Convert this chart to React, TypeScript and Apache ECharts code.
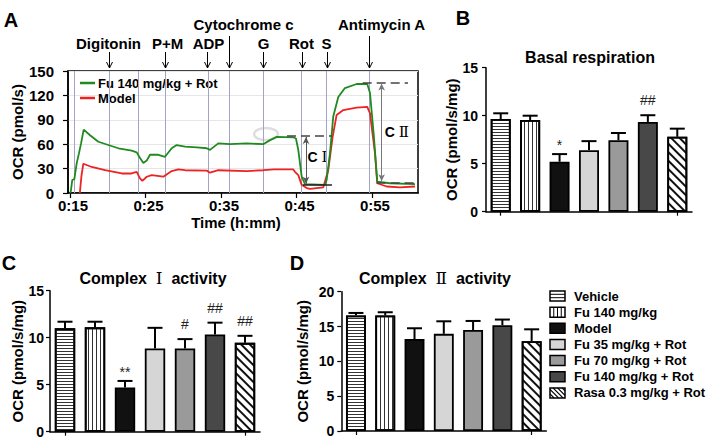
import React, { useEffect, useRef } from 'react';
import * as echarts from 'echarts';

const FONT = '"Liberation Sans", Arial, Helvetica, sans-serif';
const SERIF = '"DejaVu Serif", "Liberation Serif", serif';

// ---------- Panel A data ----------
const timeTicks = [15, 25, 35, 45, 55];
const yTicksA = [0, 30, 60, 90, 120, 150];
const traceNames = ['Fu 140 mg/kg + Rot', 'Model'];

// Fu 140 mg/kg + Rot (green) trace: [time (min), OCR (pmol/s)]
const fuRotTrace: [number, number][] = [
  [15.0, 0], [15.1, 2], [15.3, 16], [15.57, 17], [15.89, 37], [16.19, 49], [16.46, 61], [16.81, 78],
  [17.65, 71], [18.75, 63], [20.07, 59], [21.4, 55], [23.17, 52], [23.83, 50], [24.27, 43],
  [24.71, 37], [25.16, 40], [25.6, 47], [26.7, 47], [27.58, 44.5], [28.47, 55], [29.13, 59],
  [30.23, 57], [31.8, 56], [33.11, 55], [33.54, 53], [34.64, 61], [36.19, 60], [38.4, 61],
  [40.6, 60], [41.5, 65], [42.38, 69], [44.58, 68.5], [44.93, 67], [45.24, 53], [45.69, 20],
  [46.13, 11], [48.77, 10], [49.0, 16], [49.44, 49], [49.87, 94], [50.54, 118], [51.42, 129],
  [52.97, 134], [54.38, 134], [54.74, 123], [55.26, 69], [55.7, 14], [57.38, 12], [60.7, 11],
];

// Model (red) trace
const modelTrace: [number, number][] = [
  [16.3, 0], [16.5, 20], [16.76, 36], [17.87, 32], [19.64, 28], [21.85, 24], [23.17, 24],
  [23.83, 26], [24.27, 18], [24.58, 15], [25.16, 20], [25.82, 22], [27.36, 20], [28.47, 27],
  [29.34, 29], [30.23, 28], [33.11, 27.5], [33.54, 25], [34.64, 28], [38.4, 27], [40.6, 28],
  [42.0, 29], [44.58, 29], [44.8, 26], [45.24, 22], [45.69, 10], [46.35, 6], [46.79, 5],
  [48.55, 7], [49.21, 28], [49.79, 69], [50.32, 96], [51.2, 102], [52.97, 105], [54.38, 106],
  [54.74, 98], [55.4, 49], [55.7, 12], [56.95, 8], [58.71, 7], [60.7, 8],
];

// injection marks (vertical lines) in minutes
const injectionTimes = [15.53, 20.2, 24.05, 27.58, 33.32, 36.1, 40.6, 45.69, 49.0, 54.64];
const injectionNames = ['Digitonin', 'P+M', 'ADP', 'Cytochrome c', 'G', 'Rot', 'S', 'Antimycin A'];
const injectionArrowTimes = [20.2, 27.58, 33.1, 36.1, 40.6, 45.69, 49.0, 54.64];

// Complex I / II span annotations (time, OCR)
const complexIRange = { tStart: 43.74, tEnd: 49.7, tLowStart: 45.86, tArrow: 46.26, high: 70.5, low: 10 };
const complexIIRange = { tStart: 53.77, tEnd: 59.77, tLowStart: 55.62, tLowEnd: 61.09, tArrow: 56.28, high: 136, low: 13 };

// ---------- Bar panels data ----------
const groups = [
  'Vehicle', 'Fu 140 mg/kg', 'Model', 'Fu 35 mg/kg + Rot',
  'Fu 70 mg/kg + Rot', 'Fu 140 mg/kg + Rot', 'Rasa 0.3 mg/kg + Rot',
];
const basalMean = [9.65, 9.55, 5.2, 6.4, 7.45, 9.35, 7.8];
const basalErr = [0.6, 0.45, 0.8, 0.95, 0.75, 0.7, 0.85];
const basalSig = ['', '', '*', '', '', '##', ''];

const complexIMean = [11.0, 11.1, 4.7, 8.85, 8.85, 10.35, 9.45];
const complexIErr = [0.7, 0.6, 0.7, 2.2, 1.0, 1.25, 0.75];
const complexISig = ['', '', '**', '', '#', '##', '##'];

const complexIIMean = [16.6, 16.6, 13.2, 13.95, 14.5, 15.2, 12.9];
const complexIIErr = [0.35, 0.45, 1.55, 1.8, 1.3, 0.8, 1.7];
const complexIISig = ['', '', '', '', '', '', ''];

// ---------- styles ----------
const GREEN = '#1f8a1f';
const RED = '#ee2222';
const barColors = ['#ffffff', '#ffffff', '#111111', '#d6d6d6', '#9a9a9a', '#484848', '#ffffff'];
const hStripe = { symbol: 'rect', symbolSize: 1, dashArrayX: [1, 0], dashArrayY: [1, 2], color: '#333' };
const vStripe = { symbol: 'rect', symbolSize: 1, dashArrayX: [1, 3], dashArrayY: [1, 0], color: '#333' };
const dStripe = { symbol: 'rect', symbolSize: 1, dashArrayX: [1, 0], dashArrayY: [2, 4], rotation: Math.PI / 4, color: '#111' };
const barDecals: any[] = [hStripe, vStripe, null, null, null, null, dStripe];
const swatchPattern = ['h', 'v', '', '', '', '', 'd'];

const boldText = (size: number) => ({ fontFamily: FONT, fontWeight: 'bold' as const, fontSize: size, color: '#000' });

function barSeries(k: number, means: number[]) {
  return {
    type: 'bar',
    xAxisIndex: k,
    yAxisIndex: k,
    barWidth: '68%',
    silent: true,
    z: 2,
    data: means.map((v, i) => ({
      value: v,
      itemStyle: {
        color: barColors[i],
        borderColor: '#000',
        borderWidth: 1.8,
        decal: barDecals[i] || undefined,
      },
    })),
  };
}

function errSeries(k: number, means: number[], errs: number[], sig: string[]) {
  return {
    type: 'custom',
    xAxisIndex: k,
    yAxisIndex: k,
    silent: true,
    z: 5,
    data: means.map((m, i) => [i, m + errs[i], m]),
    renderItem: (params: any, api: any) => {
      const i = api.value(0);
      const top = api.coord([i, api.value(1)]);
      const base = api.coord([i, api.value(2)]);
      const s = sig[params.dataIndex];
      const children: any[] = [
        { type: 'line', shape: { x1: base[0], y1: base[1], x2: top[0], y2: top[1] }, style: { stroke: '#000', lineWidth: 2 } },
        { type: 'line', shape: { x1: top[0] - 7.5, y1: top[1], x2: top[0] + 7.5, y2: top[1] }, style: { stroke: '#000', lineWidth: 2 } },
      ];
      if (s) {
        const off = s.indexOf('#') >= 0 ? 8 : 2;
        children.push({
          type: 'text',
          x: top[0],
          y: top[1] - off,
          style: { text: s, fontFamily: FONT, fontSize: 14, fill: '#222', textAlign: 'center', textVerticalAlign: 'bottom' },
        });
      }
      return { type: 'group', children };
    },
  };
}

function catX(k: number) {
  return {
    type: 'category',
    gridIndex: k,
    data: groups,
    axisLine: { show: true, lineStyle: { color: '#000', width: 1.5 } },
    axisTick: { show: true, alignWithLabel: true, length: 4, lineStyle: { color: '#000', width: 1.2 } },
    axisLabel: { show: false },
    splitLine: { show: false },
  };
}

function valY(k: number, max: number, interval: number, nameGap: number, margin: number) {
  return {
    type: 'value',
    gridIndex: k,
    min: 0,
    max,
    interval,
    name: 'OCR (pmol/s/mg)',
    nameLocation: 'middle',
    nameGap,
    nameTextStyle: boldText(15),
    axisLine: { show: true, lineStyle: { color: '#000', width: 1.5 } },
    axisTick: { show: true, length: 4, lineStyle: { color: '#000', width: 1.2 } },
    axisLabel: { ...boldText(14), margin },
    splitLine: { show: false },
  };
}

function buildOption(): any {
  return {
    animation: false,
    backgroundColor: '#ffffff',
    grid: [
      { left: 68, top: 71, width: 350, height: 122, show: true, borderColor: '#000', borderWidth: 1.5, backgroundColor: 'transparent', outerBoundsMode: 'none' },
      { left: 486, top: 67.7, width: 206, height: 144, outerBoundsMode: 'none' },
      { left: 50, top: 290.7, width: 210, height: 141, outerBoundsMode: 'none' },
      { left: 341.3, top: 291.7, width: 205, height: 139.3, outerBoundsMode: 'none' },
    ],
    xAxis: [
      {
        type: 'value',
        gridIndex: 0,
        min: 14.73,
        max: 61.1,
        name: 'Time (h:mm)',
        nameLocation: 'middle',
        nameGap: 22,
        nameTextStyle: { ...boldText(15), padding: [0, 14, 0, 0] },
        axisLine: { show: true, lineStyle: { color: '#000', width: 1.5 } },
        axisTick: { show: true, length: 5, customValues: timeTicks, lineStyle: { color: '#000', width: 1.2 } },
        axisLabel: { ...boldText(15), margin: 5, customValues: timeTicks, padding: [0, 0, 0, 6], formatter: (v: number) => '0:' + v },
        splitLine: { show: false },
      },
      catX(1),
      catX(2),
      catX(3),
    ],
    yAxis: [
      {
        type: 'value',
        gridIndex: 0,
        min: yTicksA[0],
        max: yTicksA[yTicksA.length - 1],
        interval: 30,
        name: 'OCR (pmol/s)',
        nameLocation: 'middle',
        nameGap: 43,
        nameTextStyle: boldText(15),
        axisLine: { show: true, lineStyle: { color: '#000', width: 1.5 } },
        axisTick: { show: true, length: 5, lineStyle: { color: '#000', width: 1.2 } },
        axisLabel: { ...boldText(15), margin: 14 },
        splitLine: { show: true, lineStyle: { color: '#e6e6e6', width: 1 } },
      },
      valY(1, 15, 5, 27, 8),
      valY(2, 15, 5, 24, 6),
      valY(3, 20, 5, 31, 7),
    ],
    series: [
      {
        type: 'line',
        name: traceNames[1],
        xAxisIndex: 0,
        yAxisIndex: 0,
        data: modelTrace,
        showSymbol: false,
        symbol: 'none',
        silent: true,
        z: 3,
        lineStyle: { color: RED, width: 1.8 },
        markLine: {
          silent: true,
          symbol: 'none',
          label: { show: false },
          lineStyle: { color: '#a3a3c6', width: 1, type: 'solid' },
          data: injectionTimes.map((t) => ({ xAxis: t })),
          z: 1,
        },
      },
      {
        type: 'line',
        name: traceNames[0],
        xAxisIndex: 0,
        yAxisIndex: 0,
        data: fuRotTrace,
        showSymbol: false,
        symbol: 'none',
        silent: true,
        z: 4,
        lineStyle: { color: GREEN, width: 1.8 },
        markLine: {
          silent: true,
          symbol: 'none',
          label: { show: false },
          data: [
            [
              { coord: [complexIRange.tStart, complexIRange.high], lineStyle: { color: '#444', width: 1.5, type: [9, 5] } },
              { coord: [complexIRange.tEnd, complexIRange.high] },
            ],
            [
              { coord: [complexIRange.tLowStart, complexIRange.low], lineStyle: { color: '#222', width: 1.5, type: 'solid' } },
              { coord: [complexIRange.tEnd, complexIRange.low] },
            ],
            [
              { coord: [complexIRange.tArrow, complexIRange.high - 1.5], symbol: 'arrow', symbolSize: [5, 7], lineStyle: { color: '#555', width: 1, type: 'solid' } },
              { coord: [complexIRange.tArrow, complexIRange.low + 1.5], symbol: 'arrow', symbolSize: [5, 7] },
            ],
            [
              { coord: [complexIIRange.tStart, complexIIRange.high], lineStyle: { color: '#444', width: 1.5, type: [9, 5] } },
              { coord: [complexIIRange.tEnd, complexIIRange.high] },
            ],
            [
              { coord: [complexIIRange.tLowStart, complexIIRange.low], lineStyle: { color: '#444', width: 1.5, type: [9, 5] } },
              { coord: [complexIIRange.tLowEnd, complexIIRange.low] },
            ],
            [
              { coord: [complexIIRange.tArrow, complexIIRange.high - 1.5], symbol: 'arrow', symbolSize: [5, 7], lineStyle: { color: '#777', width: 1, type: 'solid' } },
              { coord: [complexIIRange.tArrow, complexIIRange.low + 1.5], symbol: 'arrow', symbolSize: [5, 7] },
            ],
          ],
        },
      },
      barSeries(1, basalMean),
      barSeries(2, complexIMean),
      barSeries(3, complexIIMean),
      errSeries(1, basalMean, basalErr, basalSig),
      errSeries(2, complexIMean, complexIErr, complexISig),
      errSeries(3, complexIIMean, complexIIErr, complexIISig),
    ],
  };
}

// layout of the decorations (pixels)
const arrowLabelShift = [-1, 2, 1, 14, 0, -1, -1, 12];
const arrowUpperRow = [false, false, false, true, false, false, false, true];

function buildGraphics(chart: any): any[] {
  const px = (t: number, v: number) => chart.convertToPixel({ gridIndex: 0 }, [t, v]) as number[];
  const g: any[] = [];
  const txt = (x: number, y: number, text: string, size: number, extra: any = {}) => ({
    type: 'text',
    x,
    y,
    silent: true,
    style: { text, fontFamily: FONT, fontSize: size, fontWeight: 'bold', fill: '#000', textAlign: 'center', textVerticalAlign: 'middle', ...extra },
  });
  const romanRich = (size: number) => ({
    a: { fontFamily: FONT, fontWeight: 'bold', fontSize: size, fill: '#000' },
    n: { fontFamily: SERIF, fontWeight: 'normal', fontSize: size + 1, fill: '#000' },
  });

  g.push(txt(11, 20, 'A', 20));
  g.push(txt(463, 18, 'B', 20));
  g.push(txt(9, 263, 'C', 20));
  g.push(txt(297, 263, 'D', 20));

  g.push(txt(590, 57, 'Basal respiration', 16));
  g.push(txt(153, 278, '{a|Complex}  {n|Ⅰ}  {a|activity}', 16, { rich: romanRich(16) }));
  g.push(txt(435, 278, '{a|Complex}  {n|Ⅱ}  {a|activity}', 16, { rich: romanRich(16) }));

  const boxTop = px(30, 150)[1];
  injectionNames.forEach((name, i) => {
    const x = Math.round(px(injectionArrowTimes[i], 150)[0]) + 0.5;
    const upper = arrowUpperRow[i];
    const y1 = upper ? 36 : 52;
    const y2 = boxTop - 3;
    g.push({ type: 'line', silent: true, shape: { x1: x, y1, x2: x, y2 }, style: { stroke: '#000', lineWidth: 1 } });
    g.push({ type: 'polyline', silent: true, shape: { points: [[x - 3, y2 - 6], [x, y2], [x + 3, y2 - 6]] }, style: { stroke: '#000', lineWidth: 1, fill: 'none' } });
    g.push(txt(x + arrowLabelShift[i], upper ? 24 : 43, name, 15));
  });

  // faint loading-icon watermark
  const wm = px(40.96, 72.5);
  g.push({ type: 'ellipse', silent: true, shape: { cx: wm[0], cy: wm[1], rx: 12, ry: 6 }, style: { stroke: '#dedede', lineWidth: 2.5, fill: 'none' } });

  // C I / C II labels
  const c1 = px(47.78, 44);
  const c2 = px(58.3, 75);
  g.push(txt(c1[0], c1[1], '{a|C} {n|Ⅰ}', 14, { rich: romanRich(14) }));
  g.push(txt(c2[0], c2[1], '{a|C} {n|Ⅱ}', 14, { rich: romanRich(14) }));

  // legend of panel A
  const legA = [
    { y: 83, color: GREEN, label: traceNames[0] },
    { y: 98, color: RED, label: traceNames[1] },
  ];
  legA.forEach((it) => {
    g.push({ type: 'line', silent: true, shape: { x1: 80, y1: it.y, x2: 95, y2: it.y }, style: { stroke: it.color, lineWidth: 2.5 } });
    g.push(txt(98, it.y, it.label, 13, { textAlign: 'left' }));
  });

  // legend of panel D
  const sw = 15, sh = 10, lx = 550;
  groups.forEach((name, i) => {
    const yc = 296 + i * 16.15;
    const y0 = yc - sh / 2;
    g.push({ type: 'rect', silent: true, shape: { x: lx, y: y0, width: sw, height: sh }, style: { fill: barColors[i], stroke: '#000', lineWidth: 1.5 } });
    const p = swatchPattern[i];
    if (p === 'h') {
      [3.3, 6.7].forEach((d) => g.push({ type: 'line', silent: true, shape: { x1: lx, y1: y0 + d, x2: lx + sw, y2: y0 + d }, style: { stroke: '#000', lineWidth: 1 } }));
    } else if (p === 'v') {
      [3.75, 7.5, 11.25].forEach((d) => g.push({ type: 'line', silent: true, shape: { x1: lx + d, y1: y0, x2: lx + d, y2: y0 + sh }, style: { stroke: '#000', lineWidth: 1 } }));
    } else if (p === 'd') {
      [-6, -1.5, 3, 7.5, 12].forEach((c) => {
        const sx = Math.max(0, c);
        const sy = sx - c;
        const ex = Math.min(sw, sh + c);
        const ey = ex - c;
        if (ex > sx) g.push({ type: 'line', silent: true, shape: { x1: lx + sx, y1: y0 + sy, x2: lx + ex, y2: y0 + ey }, style: { stroke: '#000', lineWidth: 1.2 } });
      });
    }
    g.push(txt(574, yc, name, 13, { textAlign: 'left' }));
  });
  return g;
}

export default function App() {
  const ref = useRef<HTMLDivElement>(null);
  useEffect(() => {
    if (!ref.current) return;
    const chart = echarts.init(ref.current, null, { renderer: 'svg' });
    chart.setOption(buildOption());
    chart.setOption({ graphic: buildGraphics(chart) });
    return () => chart.dispose();
  }, []);
  return <div ref={ref} style={{ position: 'absolute', left: 0, top: 0, width: 717, height: 442, background: '#fff' }} />;
}
